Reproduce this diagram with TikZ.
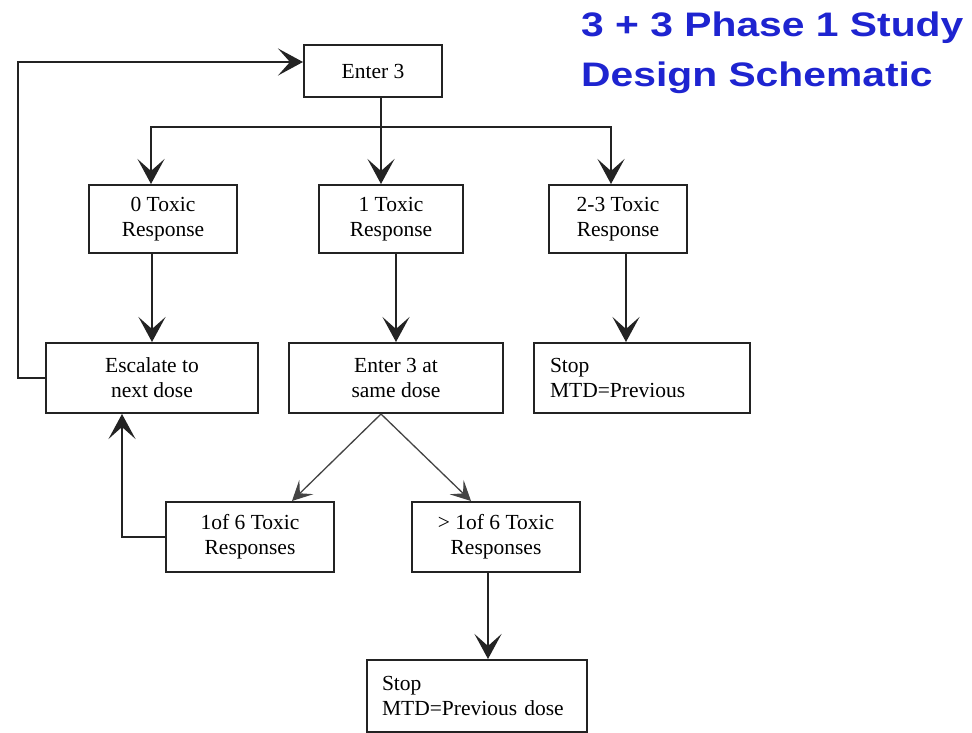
\documentclass[tikz,border=0pt]{standalone}
\usepackage{fontspec}
\setmainfont{Liberation Serif}
\newfontfamily\titlefont{Liberation Sans}
\usetikzlibrary{arrows.meta}
\definecolor{titleblue}{RGB}{30,36,208}
\definecolor{boxline}{RGB}{35,35,35}
\begin{document}
\begin{tikzpicture}[x=1pt,y=-1pt,
  box/.style={draw=boxline, line width=2pt, fill=white, inner sep=0pt, align=center,
    font=\fontsize{21.5}{25}\selectfont},
  leftbox/.style={box, align=left, inner xsep=16pt},
  conn/.style={draw=boxline, line width=2pt},
  arr/.style={conn, -{Stealth[length=25pt,width=27pt,inset=12pt]}},
  thinarr/.style={draw=boxline!85, line width=1.3pt, -{Stealth[length=20pt,width=20pt,inset=9pt]}},
  titletext/.style={text=titleblue, font=\titlefont\bfseries\fontsize{34}{40}\selectfont, inner sep=0pt}
]
\useasboundingbox (0,0) rectangle (972,733);
\fill[white] (0,0) rectangle (972,733);

% title
\node[titletext, anchor=base west] (title1) at (581,37) {\scalebox{1.2}[1]{3 + 3 Phase 1 Study}};
\node[titletext, anchor=base west] (title2) at (581,87) {\scalebox{1.2}[1]{Design Schematic}};

% boxes
\node[box, minimum width=138pt, minimum height=52pt] (e3) at (373,71) {Enter 3};
\node[box, minimum width=148pt, minimum height=68pt] (t0) at (163,219) {0 Toxic\\Response};
\node[box, minimum width=144pt, minimum height=68pt] (t1) at (391,219) {1 Toxic\\Response};
\node[box, minimum width=138pt, minimum height=68pt] (t23) at (618,219) {2-3 Toxic\\Response};
\node[box, minimum width=212pt, minimum height=70pt] (esc) at (152,378) {Escalate to\\next dose};
\node[box, minimum width=214pt, minimum height=70pt] (same) at (396,378) {Enter 3 at\\same dose};
\node[leftbox, minimum width=216pt, text width=184pt, minimum height=70pt] (stop1) at (642,378) {Stop\\MTD=Previous};
\node[box, minimum width=168pt, minimum height=70pt] (r1) at (250,537) {1of 6 Toxic\\Responses};
\node[box, minimum width=168pt, minimum height=70pt] (rgt) at (496,537) {> 1of 6 Toxic\\Responses};
\node[leftbox, inner xsep=15pt, minimum width=220pt, text width=190pt, minimum height=72pt] (stop2) at (477,696) {Stop\\MTD=Previous dose};

% connectors
\coordinate (bus) at (381,127);
\coordinate (b0) at (151,127);
\coordinate (b2) at (611,127);
\draw[conn] (e3.south -| bus) -- (bus);
\draw[conn, line cap=rect] (b0) -- (b2);
\draw[arr] (b0) -- (b0 |- t0.north);
\draw[arr] (bus) -- (bus |- t1.north);
\draw[arr] (b2) -- (b2 |- t23.north);

\draw[arr] (t0.south -| esc.north) -- (esc.north);
\draw[arr] (t1.south -| same.north) -- (same.north);
\draw[arr] ([xshift=8pt]t23.south) -- ([xshift=8pt]t23.south |- stop1.north);

\coordinate (loop) at (18,62);
\draw[arr] (esc.west) -| (loop) -- (loop -| e3.west);

\coordinate (split) at ([xshift=-15pt]same.south);
\draw[thinarr] (split) -- ([xshift=42pt]r1.north);
\draw[thinarr] (split) -- ([xshift=-25pt]rgt.north);

\draw[arr] (r1.west) -| ([xshift=-30pt]esc.south);
\draw[arr] ([xshift=-8pt]rgt.south) -- ([xshift=-8pt]rgt.south |- stop2.north);
\end{tikzpicture}
\end{document}
